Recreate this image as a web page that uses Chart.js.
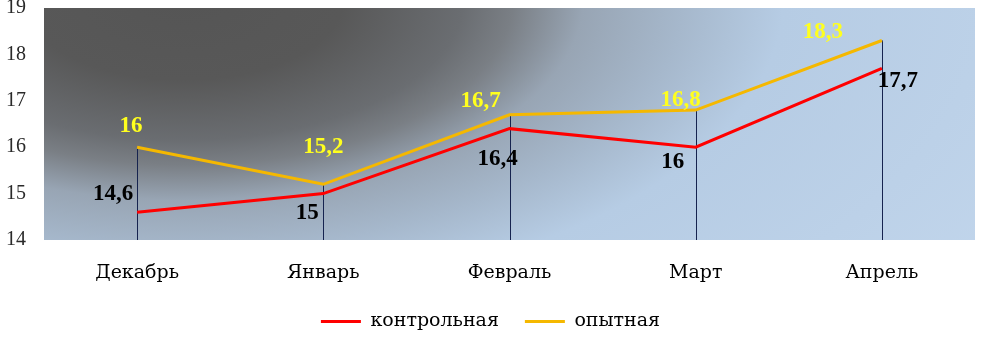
<!DOCTYPE html>
<html lang="ru">
<head>
  <meta charset="UTF-8">
  <title>контрольная / опытная</title>
  <style>
    html, body { margin: 0; padding: 0; background: #fff; }
    .wrap { width: 989px; height: 341px; }
  </style>
</head>
<body>
  <div class="wrap"><canvas id="chart"></canvas></div>
  <script src="https://cdn.jsdelivr.net/npm/chart.js@4.4.1/dist/chart.umd.min.js"></script>
  <script>
    const months = ['Декабрь', 'Январь', 'Февраль', 'Март', 'Апрель'];
    const control = [14.6, 15, 16.4, 16, 17.7];
    const experimental = [16, 15.2, 16.7, 16.8, 18.3];
    const yTicks = [14, 15, 16, 17, 18, 19];

    // label offsets (px) from each point, as in the picture
    const controlOffsets = [[-24, -18], [-16, 19], [-12, 30], [-23, 15], [16, 13]];
    const expOffsets = [[-6, -21], [0, -37], [-29, -14], [-15, -10], [-59, -8]];

    const serif = '"Liberation Serif", "Times New Roman", serif';
    const wideSerif = '"DejaVu Serif", serif';

    // radial (stretched) background: [distance, colour]
    const bgStops = [
      [0, '#555555'], [80, '#585858'], [140, '#6a6d71'], [165, '#7a7f85'],
      [200, '#98a5b4'], [250, '#a6b8cc'], [300, '#b6cce4'], [500, '#c2d6ec']
    ];

    const background = {
      id: 'background',
      beforeDatasetsDraw(chart) {
        const { ctx, chartArea: a } = chart;
        ctx.save();
        const cx = a.left + 139, cy = a.top - 8, sx = 2;
        ctx.translate(cx, cy);
        ctx.scale(sx, 1);
        const g = ctx.createRadialGradient(0, 0, 0, 0, 0, 500);
        bgStops.forEach(([d, c]) => g.addColorStop(d / 500, c));
        ctx.fillStyle = g;
        ctx.fillRect((a.left - cx) / sx, a.top - cy, (a.right - a.left) / sx, a.bottom - a.top);
        ctx.restore();

        // drop lines
        const x = chart.scales.x, y = chart.scales.y;
        ctx.save();
        ctx.strokeStyle = '#16234f';
        ctx.lineWidth = 1;
        months.forEach((m, i) => {
          const px = Math.round(x.getPixelForValue(i)) + 0.5;
          const top = y.getPixelForValue(Math.max(control[i], experimental[i]));
          ctx.beginPath();
          ctx.moveTo(px, top);
          ctx.lineTo(px, a.bottom);
          ctx.stroke();
        });
        ctx.restore();
      }
    };

    const labels = {
      id: 'labels',
      afterDatasetsDraw(chart) {
        const { ctx } = chart;
        const x = chart.scales.x, y = chart.scales.y;
        ctx.save();
        ctx.font = 'bold 23px ' + serif;
        ctx.textAlign = 'center';
        ctx.textBaseline = 'middle';
        const draw = (vals, offs, color) => {
          ctx.fillStyle = color;
          vals.forEach((v, i) => {
            const px = x.getPixelForValue(i) + offs[i][0];
            const py = y.getPixelForValue(v) + offs[i][1];
            ctx.fillText(String(v).replace('.', ','), px, py);
          });
        };
        draw(experimental, expOffsets, '#ffff1e');
        draw(control, controlOffsets, '#000000');
        ctx.restore();
      }
    };

    new Chart(document.getElementById('chart'), {
      type: 'line',
      data: {
        labels: months,
        datasets: [
          {
            label: 'контрольная',
            data: control,
            borderColor: '#ff0000',
            backgroundColor: '#ff0000',
            borderWidth: 3,
            pointRadius: 0,
            pointHoverRadius: 0,
            tension: 0
          },
          {
            label: 'опытная',
            data: experimental,
            borderColor: '#f5b800',
            backgroundColor: '#f5b800',
            borderWidth: 3,
            pointRadius: 0,
            pointHoverRadius: 0,
            tension: 0
          }
        ]
      },
      options: {
        responsive: true,
        maintainAspectRatio: false,
        animation: false,
        layout: { autoPadding: false, padding: { top: 8, right: 14, bottom: 0, left: 6 } },
        plugins: {
          tooltip: { enabled: false },
          legend: {
            position: 'bottom',
            labels: {
              boxWidth: 40,
              boxHeight: 3,
              padding: 26,
              color: '#000',
              font: { family: wideSerif, size: 19 },
              generateLabels(chart) {
                return Chart.defaults.plugins.legend.labels.generateLabels(chart)
                  .map(l => Object.assign(l, { lineWidth: 0 }));
              }
            }
          }
        },
        scales: {
          x: {
            offset: true,
            grid: { display: false },
            border: { display: false },
            ticks: { color: '#000', padding: 14, font: { family: wideSerif, size: 19 } },
            afterFit(scale) { scale.height = 46; }
          },
          y: {
            min: 14,
            max: 19,
            grid: { display: false },
            border: { display: false },
            afterBuildTicks(scale) { scale.ticks = yTicks.map(v => ({ value: v })); },
            ticks: {
              color: '#2a2a2a',
              crossAlign: 'far',
              padding: 8,
              font: { family: serif, size: 20, lineHeight: 0.8 }
            },
            afterFit(scale) {
              scale.width = 38;
              scale.paddingTop = 0;
              scale.paddingBottom = 0;
            }
          }
        }
      },
      plugins: [background, labels]
    });
  </script>
</body>
</html>
